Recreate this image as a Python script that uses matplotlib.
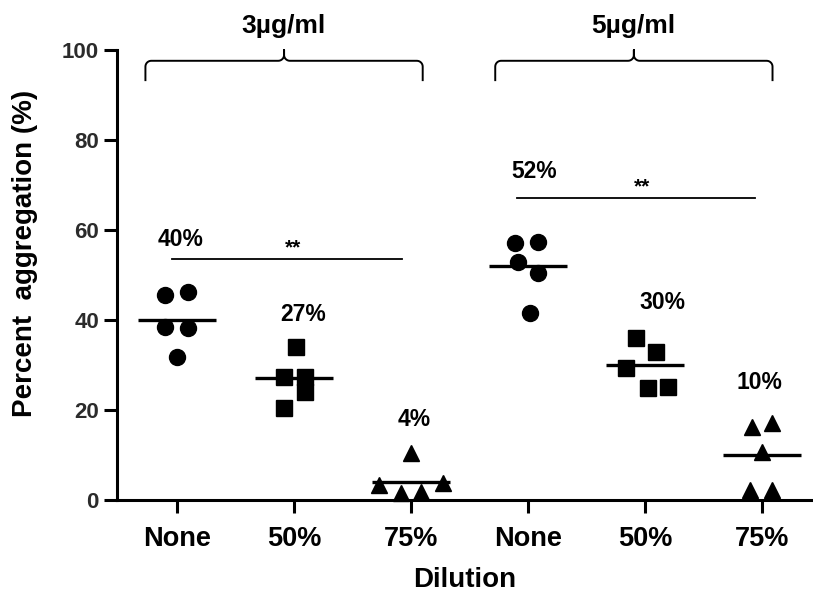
import numpy as np
import matplotlib.pyplot as plt

plt.rcParams['font.family'] = ['Liberation Sans', 'DejaVu Sans']
plt.rcParams['font.weight'] = 'bold'

tick_labels = ['None', '50%', '75%', 'None', '50%', '75%']
markers = ['o', 's', '^', 'o', 's', '^']
msizes = [11.5, 11, 12, 11.5, 11, 12]

# individual values per group (percent aggregation) and horizontal scatter offsets
values = [
    [45.6, 46.2, 38.4, 38.2, 31.8],
    [34.0, 27.3, 27.3, 24.0, 20.4],
    [10.4, 3.3, 3.8, 1.6, 1.8],
    [57.1, 57.3, 52.9, 50.4, 41.6],
    [36.0, 32.9, 29.3, 24.9, 25.1],
    [16.2, 17.1, 10.7, 2.2, 2.2],
]
offsets = [
    [-0.10, 0.09, -0.10, 0.09, 0.0],
    [0.02, -0.085, 0.095, 0.095, -0.085],
    [0.0, -0.27, 0.27, -0.085, 0.085],
    [-0.11, 0.085, -0.085, 0.085, 0.02],
    [-0.08, 0.095, -0.16, 0.025, 0.2],
    [-0.085, 0.085, 0.0, -0.1, 0.085],
]
means = [40, 27, 4, 52, 30, 10]
mean_labels = ['40%', '27%', '4%', '52%', '30%', '10%']
label_pos = [(0.03, 57.8), (1.08, 41.3), (2.03, 17.8),
             (3.05, 72.9), (4.15, 43.8), (4.98, 26.0)]

fig = plt.figure(figsize=(8.13, 5.98), dpi=100)
ax = fig.add_axes([0.1439, 0.1639, 1 - 0.1439, 0.9164 - 0.1639])

for i in range(6):
    xs = i + np.array(offsets[i])
    ax.plot(xs, values[i], linestyle='none', marker=markers[i], ms=msizes[i],
            color='black', clip_on=False, zorder=3)
    ax.plot([i - 0.33, i + 0.33], [means[i], means[i]], color='black', lw=2.4,
            solid_capstyle='butt', zorder=4)
    ax.text(label_pos[i][0], label_pos[i][1], mean_labels[i], ha='center',
            va='center', fontsize=16.5, fontweight='bold')

# significance bars
for x0, x1, y in [(-0.04, 1.92, 53.6), (2.91, 4.94, 67.1)]:
    ax.plot([x0, x1], [y, y], color='black', lw=1.3)
    ax.text((x0 + x1) / 2 + 0.05, y + 0.4, '**', ha='center', va='bottom',
            fontsize=15, fontweight='bold')


def brace(x0, x1, y, drop, rise, rx=0.05, ry=1.3):
    t = np.linspace(0, np.pi / 2, 10)
    xc = (x0 + x1) / 2
    # left end going up, corner, flat run, corner up to the peak
    px = [x0]
    py = [y - drop]
    px += list(x0 + rx - rx * np.cos(t))
    py += list(y - ry + ry * np.sin(t))
    px += list(xc - rx + rx * np.sin(t))
    py += list(y + ry - ry * np.cos(t))
    px += [xc]
    py += [y + rise]
    # mirrored right half
    px += list(xc + rx - rx * np.sin(t[::-1]))
    py += list(y + ry - ry * np.cos(t[::-1]))
    px += list(x1 - rx + rx * np.cos(t[::-1]))
    py += list(y - ry + ry * np.sin(t[::-1]))
    px += [x1]
    py += [y - drop]
    ax.plot(px, py, color='black', lw=1.4, clip_on=False)


brace(-0.27, 2.10, 97.6, 4.3, 2.4)
brace(2.72, 5.09, 97.6, 4.3, 2.4)
ax.text(0.91, 103.8, '3µg/ml', ha='center', va='baseline', fontsize=19,
        fontweight='bold')
ax.text(3.90, 103.8, '5µg/ml', ha='center', va='baseline', fontsize=19,
        fontweight='bold')

ax.set_xlim(-0.513, 5.436)
ax.set_ylim(0, 100)
ax.set_xticks(range(6))
ax.set_xticklabels(tick_labels, fontsize=19.5, fontweight='bold')
ax.set_yticks([0, 20, 40, 60, 80, 100])
ax.set_yticklabels(['0', '20', '40', '60', '80', '100'], fontsize=16,
                   fontweight='bold', color='#2b2b2b')
ax.spines['top'].set_visible(False)
ax.spines['right'].set_visible(False)
for s in ['left', 'bottom']:
    ax.spines[s].set_linewidth(2.2)
ax.tick_params(axis='both', width=2.2, length=9.5, direction='out')
ax.tick_params(axis='x', pad=9)
ax.tick_params(axis='y', pad=3.5)
ax.set_xlabel('Dilution', fontsize=20, fontweight='bold', labelpad=11)
ax.set_ylabel('Percent  aggregation (%)', fontsize=20, fontweight='bold')
ax.yaxis.set_label_coords(-0.113, 0.549)

fig.savefig('out.png', dpi=100)
